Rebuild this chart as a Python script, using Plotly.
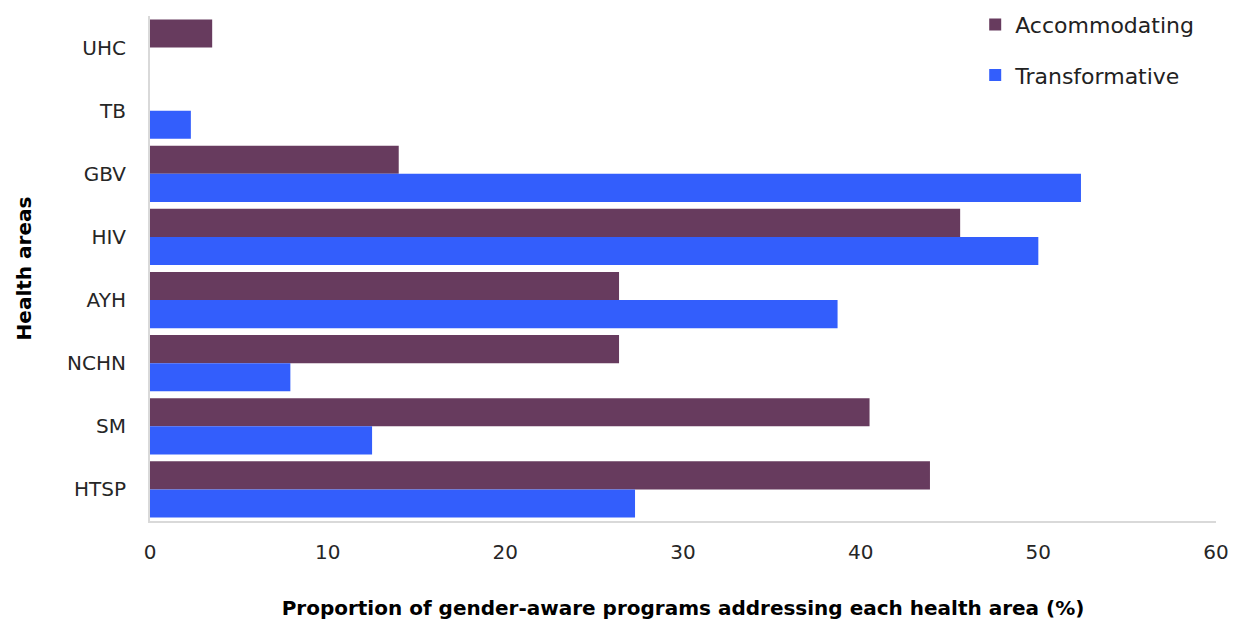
import plotly.graph_objects as go

categories = ["UHC", "TB", "GBV", "HIV", "AYH", "NCHN", "SM", "HTSP"]
accommodating = [3.5, None, 14.0, 45.6, 26.4, 26.4, 40.5, 43.9]
transformative = [None, 2.3, 52.4, 50.0, 38.7, 7.9, 12.5, 27.3]
x_ticks = [0, 10, 20, 30, 40, 50, 60]

font_family = "'DejaVu Sans', sans-serif"

fig = go.Figure()
fig.add_trace(go.Bar(y=categories, x=accommodating, orientation="h",
                     name="Accommodating", marker_color="#673B5E",
                     marker_line_width=0, legendgroup="a"))
fig.add_trace(go.Bar(y=categories, x=transformative, orientation="h",
                     name="Transformative", marker_color="#335EFC",
                     marker_line_width=0, legendgroup="b"))

fig.update_layout(
    width=1236, height=620,
    margin=dict(l=150, r=20, t=16, b=99, autoexpand=False),
    barmode="group", bargap=0.11, bargroupgap=0,
    plot_bgcolor="white", paper_bgcolor="white",
    font=dict(family=font_family, size=20, color="#262626"),
    legend=dict(x=0.789, y=0.994, xref="container", yref="container",
                xanchor="left", yanchor="top",
                traceorder="grouped", tracegroupgap=19,
                font=dict(size=22, color="#222222"),
                bgcolor="rgba(0,0,0,0)"),
    xaxis=dict(range=[0, 60], tickvals=x_ticks, showgrid=False,
               showline=True, linecolor="#D9D9D9", linewidth=2,
               zeroline=False, ticks="", ticklabelstandoff=12,
               automargin=False,
               title=dict(text="<b>Proportion of gender-aware programs addressing each health area (%)</b>",
                          font=dict(size=20, color="#000000"), standoff=38)),
    yaxis=dict(categoryorder="array", categoryarray=categories,
               autorange="reversed", showgrid=False,
               showline=True, linecolor="#D9D9D9", linewidth=2,
               ticks="", ticklabelstandoff=18, automargin=False,
               title=dict(text="<b>Health areas</b>",
                          font=dict(size=20, color="#000000"), standoff=30)),
)

fig.write_html("out.html", config={"displayModeBar": False},
               post_script="document.body.style.margin='0';document.body.style.overflow='hidden';")
